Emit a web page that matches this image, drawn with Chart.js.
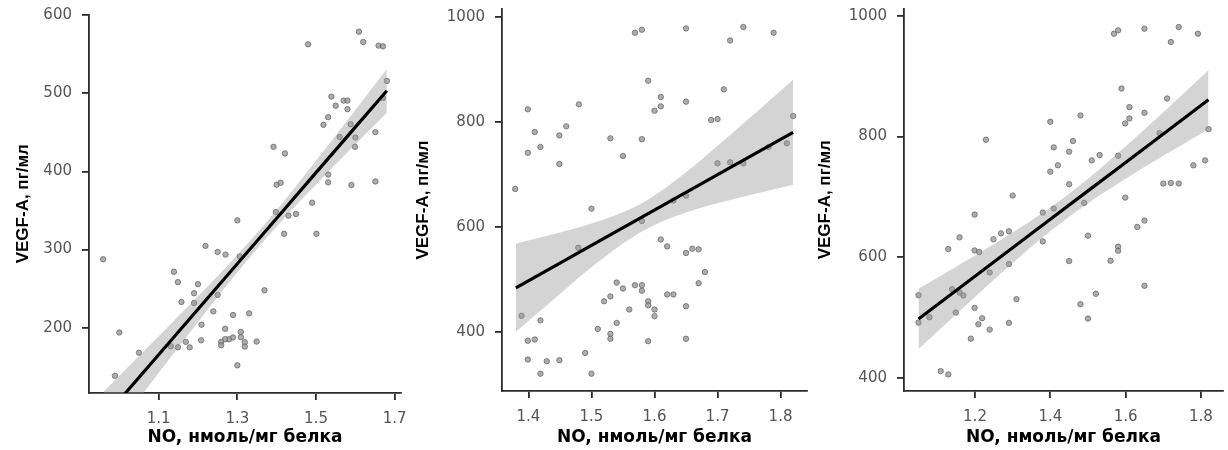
<!DOCTYPE html>
<html>
<head>
<meta charset="utf-8">
<script src="https://cdn.jsdelivr.net/npm/chart.js@4.4.1/dist/chart.umd.min.js"></script>
<style>
  body { margin: 0; background: #fff; width: 1228px; height: 450px; overflow: hidden; }
  .panel { position: absolute; top: 0; }
</style>
</head>
<body>
<div class="panel" style="left:0px"><canvas id="c1" width="410" height="450"></canvas></div>
<div class="panel" style="left:400px"><canvas id="c2" width="415" height="450"></canvas></div>
<div class="panel" style="left:810px"><canvas id="c3" width="418" height="450"></canvas></div>
<script>
// panel 1
var p1X = [1.48,1.609,1.62,1.659,1.67,1.68,1.67,1.539,1.55,1.57,1.58,1.58,1.531,1.519,1.588,1.56,1.6,1.599,1.651,1.392,1.421,1.4,1.41,1.531,1.531,1.59,1.651,1.49,1.398,1.43,1.449,1.3,1.419,1.501,0.959,1.219,1.25,1.27,1.306,1.139,1.149,1.2,1.19,1.25,1.158,1.19,1.369,1.239,1.33,1.289,1.209,1.0,1.269,1.309,1.309,1.289,1.279,1.269,1.208,1.169,1.259,1.259,1.319,1.319,1.349,1.131,1.149,1.179,1.05,1.3,0.989];
var p1Y = [562.6,578.7,565.5,560.9,560,515.7,494,495.7,484,490.6,490.6,479.6,469.4,459.6,460.4,444,443.4,431.5,450.2,431.5,423,383,385.5,396,386,382.6,387.2,360,348,343.4,345.5,337.4,320.2,320.2,287.6,304.7,297,293.6,291.4,271.7,258.4,255.8,244.2,242,233,231.8,248,221,218.5,216.3,203.9,194,198.7,194.8,188,187.6,185.4,185.4,184,182,182,177.7,181.5,176,182.4,176.4,175.1,175,168.2,152,138.6];
var p1FitX = [0.96,1.1,1.2,1.3,1.4,1.5,1.6,1.68];
var p1Fit = [84.1,165.6,223.8,282,340.2,398.4,456.6,503.1];
var p1Upper = [118.3,189.1,240.3,293.1,350.7,413.6,478.6,531.1];
var p1Lower = [49.9,142.1,207.3,270.9,329.7,383.2,434.6,475.1];
var p1XTicks = [1.1,1.3,1.5,1.7];
var p1YTicks = [200,300,400,500,600];

// panel 2
var p2X = [1.379,1.399,1.41,1.399,1.419,1.449,1.449,1.46,1.48,1.5,1.53,1.55,1.569,1.58,1.58,1.59,1.6,1.61,1.61,1.65,1.65,1.65,1.63,1.69,1.7,1.71,1.72,1.741,1.7,1.72,1.741,1.789,1.81,1.82,1.781,1.58,1.479,1.61,1.62,1.65,1.66,1.67,1.68,1.67,1.54,1.55,1.569,1.58,1.58,1.52,1.53,1.62,1.63,1.59,1.59,1.6,1.56,1.6,1.65,1.389,1.419,1.54,1.51,1.53,1.53,1.399,1.41,1.59,1.65,1.49,1.399,1.429,1.449,1.419,1.5];
var p2Y = [673,824.8,781.6,742,753,775,720.6,792.4,834.3,635.6,769.5,736,970.8,976.5,768,879.4,822.2,830.5,848.3,979,839.4,660.3,651,804.4,806.3,862.9,956,981.6,721.9,723.8,721.9,970.8,760,812,753,612,561,576.8,563.6,551,559.2,558,514.7,493.4,494.7,483.4,489.7,489.7,479,459,468.3,472,472,459,451.4,443.3,443.3,430.7,449.5,431.3,422.6,417.6,406.3,396.9,387.5,383.7,386.2,383,387.5,360.5,348,344.8,346.7,321,321];
var p2FitX = [1.38,1.45,1.5,1.58,1.65,1.72,1.82];
var p2Fit = [484.6,531.8,565.4,619.3,666.5,713.6,781];
var p2Upper = [569,590,607,646,705,776,881];
var p2Lower = [401,473,524,592,628,652,681];
var p2XTicks = [1.4,1.5,1.6,1.7,1.8];
var p2YTicks = [400,600,800,1000];

// panel 3
var p3X = [1.569,1.58,1.65,1.741,1.72,1.792,1.589,1.71,1.61,1.61,1.599,1.65,1.48,1.4,1.229,1.409,1.46,1.45,1.51,1.531,1.58,1.69,1.42,1.4,1.78,1.811,1.7,1.72,1.741,1.45,1.3,1.599,1.49,1.199,1.38,1.409,1.65,1.631,1.5,1.38,1.58,1.58,1.56,1.45,1.29,1.269,1.249,1.159,1.129,1.199,1.211,1.29,1.239,1.139,1.159,1.169,1.05,1.31,1.65,1.521,1.48,1.199,1.149,1.079,1.05,1.219,1.209,1.29,1.5,1.239,1.189,1.109,1.129,1.82];
var p3Y = [970.2,975.8,978.5,981.3,956.5,970.2,879.3,862.8,848.5,829.8,821.5,839.1,834.7,824.2,794.5,781.8,792.3,774.7,760.3,769.1,768,805.5,752.1,741.6,752.1,760.3,721.8,722.9,721.8,720.7,701.9,698.6,689.8,670.5,673.8,680.4,660.6,649.9,635.5,626,617.2,610.5,593.9,593.4,642.7,639.3,629.4,632.7,613.3,611,608.3,588.4,574.5,546.8,541.3,536.3,536.8,530.2,552.4,539.1,521.9,515.8,508,500.3,491.4,498.6,488.6,490.9,498.1,479.8,464.8,411,405.5,812];
var p3FitX = [1.05,1.2,1.3,1.4,1.5,1.6,1.7,1.82];
var p3Fit = [497.5,568.2,615.4,662.6,709.7,756.9,804.0,860.6];
var p3Upper = [547.5,602.4,640.6,682.2,730,783.8,840.2,909.5];
var p3Lower = [447.5,534,590.2,643,689.4,730,767.8,811.7];
var p3XTicks = [1.2,1.4,1.6,1.8];
var p3YTicks = [400,600,800,1000];

var xTitle = "NO, нмоль/мг белка";
var yTitle = "VEGF-A, пг/мл";

var pts = (xs, ys) => xs.map((x, i) => ({x: x, y: ys[i]}));

var axisColor = "#2b2b2b";

var makePanel = function (id, d, lay) {
    var ctx = document.getElementById(id);
    return new Chart(ctx, {
        type: "scatter",
        data: {
            datasets: [
                {
                    data: pts(d.fitX, d.fit),
                    showLine: true, borderColor: "#000", borderWidth: 3.2,
                    pointRadius: 0, order: 1
                },
                {
                    data: pts(d.fitX, d.upper),
                    showLine: true, borderWidth: 0, borderColor: "rgba(0,0,0,0)",
                    cubicInterpolationMode: "monotone",
                    pointRadius: 0, fill: "+1",
                    backgroundColor: "rgba(153,153,153,0.42)", order: 2
                },
                {
                    data: pts(d.fitX, d.lower),
                    showLine: true, borderWidth: 0, borderColor: "rgba(0,0,0,0)",
                    cubicInterpolationMode: "monotone",
                    pointRadius: 0, fill: false, order: 2
                },
                {
                    data: pts(d.x, d.y),
                    pointRadius: 2.7, borderWidth: 1,
                    backgroundColor: "rgba(145,145,145,0.75)",
                    borderColor: "rgba(100,100,100,0.75)", order: 3
                }
            ]
        },
        options: {
            responsive: false,
            animation: false,
            devicePixelRatio: 1,
            layout: {padding: {left: lay.left, right: lay.right, top: lay.top, bottom: 0}},
            plugins: {legend: {display: false}, tooltip: {enabled: false}},
            scales: {
                x: {
                    type: "linear", min: lay.xMin, max: lay.xMax,
                    afterBuildTicks: s => { s.ticks = d.xTicks.map(v => ({value: v})); },
                    afterFit: s => { s.height = lay.xHeight; s.paddingLeft = 0; s.paddingRight = 0; },
                    ticks: {
                        callback: v => v.toFixed(1),
                        font: {family: "DejaVu Sans", size: 15},
                        color: "#555", padding: 10, maxRotation: 0
                    },
                    grid: {drawOnChartArea: false, tickLength: 7, color: axisColor, lineWidth: 1.8},
                    border: {display: true, color: axisColor, width: 1.8},
                    title: {
                        display: true, text: xTitle, color: "#000",
                        font: {family: "DejaVu Sans", weight: "bold", size: 17},
                        padding: {top: 4, bottom: 2}
                    }
                },
                y: {
                    type: "linear", min: lay.yMin, max: lay.yMax,
                    afterBuildTicks: s => { s.ticks = d.yTicks.map(v => ({value: v})); },
                    afterFit: s => { s.width = lay.yWidth; s.paddingTop = 0; s.paddingBottom = 0; },
                    ticks: {
                        callback: v => String(v),
                        font: {family: "DejaVu Sans", size: 15},
                        color: "#555", padding: 10
                    },
                    grid: {drawOnChartArea: false, tickLength: 7, color: axisColor, lineWidth: 1.8},
                    border: {display: true, color: axisColor, width: 1.8},
                    title: {
                        display: true, text: yTitle, color: "#000",
                        font: {family: "Liberation Sans", weight: "bold", size: 17},
                        padding: {top: 4, bottom: 4}
                    }
                }
            }
        }
    });
};

makePanel("c1",
    {x: p1X, y: p1Y, fitX: p1FitX, fit: p1Fit, upper: p1Upper, lower: p1Lower, xTicks: p1XTicks, yTicks: p1YTicks},
    {left: 9, right: 9, top: 14.5, yWidth: 80, xHeight: 57, xMin: 0.923, xMax: 1.716, yMin: 116.6, yMax: 600.7});
makePanel("c2",
    {x: p2X, y: p2Y, fitX: p2FitX, fit: p2Fit, upper: p2Upper, lower: p2Lower, xTicks: p2XTicks, yTicks: p2YTicks},
    {left: 9, right: 8, top: 9, yWidth: 93, xHeight: 59, xMin: 1.358, xMax: 1.842, yMin: 288, yMax: 1016});
makePanel("c3",
    {x: p3X, y: p3Y, fitX: p3FitX, fit: p3Fit, upper: p3Upper, lower: p3Lower, xTicks: p3XTicks, yTicks: p3YTicks},
    {left: 1, right: 5, top: 8.5, yWidth: 93, xHeight: 59, xMin: 1.0115, xMax: 1.8585, yMin: 378, yMax: 1012});
</script>
</body>
</html>
